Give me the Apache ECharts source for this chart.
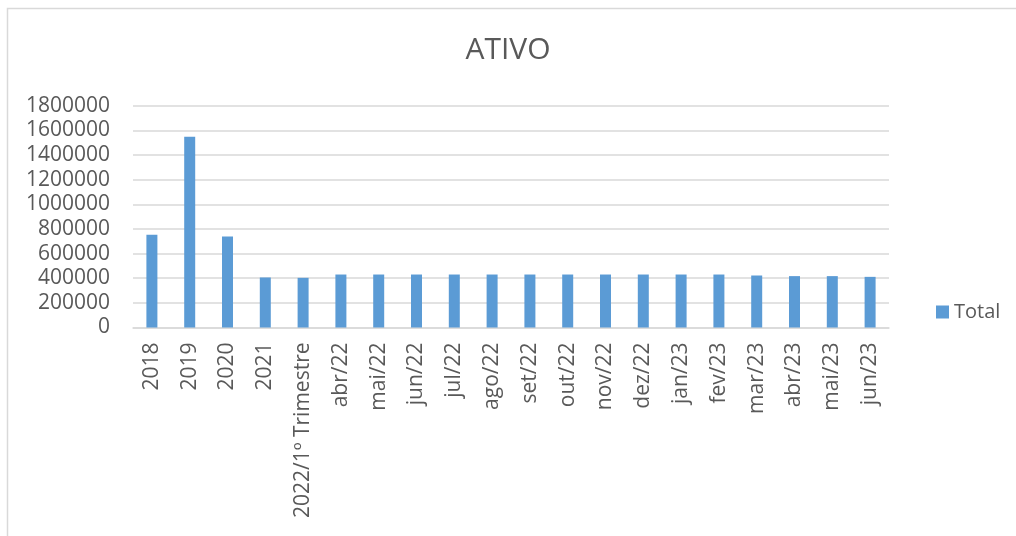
<!DOCTYPE html>
<html>
<head>
<meta charset="utf-8">
<script src="https://cdn.jsdelivr.net/npm/echarts@6/dist/echarts.min.js"></script>
<style>
html,body{margin:0;padding:0;background:#fff;}
#chart{width:1016px;height:536px;}
</style>
</head>
<body>
<div id="chart"></div>
<script>
const categories = ["2018","2019","2020","2021","2022/1º Trimestre","abr/22","mai/22","jun/22","jul/22","ago/22","set/22","out/22","nov/22","dez/22","jan/23","fev/23","mar/23","abr/23","mai/23","jun/23"];
const totalValues = [752000,1549000,738000,406000,403000,430000,430000,430000,430000,430000,430000,430000,430000,430000,430000,430000,422000,417000,417000,411000];
const yTicks = {min:0, max:1800000, interval:200000};

const FONT = "Open Sans";
const TXT = "#595959";
const chart = echarts.init(document.getElementById('chart'));
chart.setOption({
  animation:false,
  backgroundColor:'#ffffff',
  title:{
    text:'ATIVO', left:'center', top:30,
    textStyle:{fontFamily:FONT,fontSize:30,fontWeight:'normal',color:TXT}
  },
  legend:{
    data:['Total'], left:931, top:297, orient:'vertical',
    icon:'rect', itemWidth:13, itemHeight:13, itemGap:5,
    textStyle:{fontFamily:FONT,fontSize:20,color:TXT}
  },
  grid:{left:133,right:127,top:105.7,bottom:208.5,containLabel:false},
  xAxis:{
    type:'category', data:categories,
    axisLine:{show:true,lineStyle:{color:'#d9d9d9',width:1.5}},
    axisTick:{show:false},
    axisLabel:{rotate:90,interval:0,margin:15,fontFamily:FONT,fontSize:21,color:TXT}
  },
  yAxis:{
    type:'value', min:yTicks.min, max:yTicks.max, interval:yTicks.interval,
    axisLine:{show:false}, axisTick:{show:false},
    splitLine:{lineStyle:{color:'#d9d9d9',width:1.5}},
    axisLabel:{margin:23,fontFamily:FONT,fontSize:21,color:TXT,formatter:function(v){return String(v);}}
  },
  series:[{
    name:'Total', type:'bar', data:totalValues, barWidth:11,
    itemStyle:{color:'#5b9bd5'}
  }],
  graphic:[{
    type:'rect', shape:{x:7.5,y:8.5,width:1100,height:700},
    style:{fill:'none',stroke:'#d9d9d9',lineWidth:1.5}, silent:true, z:-1
  }]
});
</script>
</body>
</html>
